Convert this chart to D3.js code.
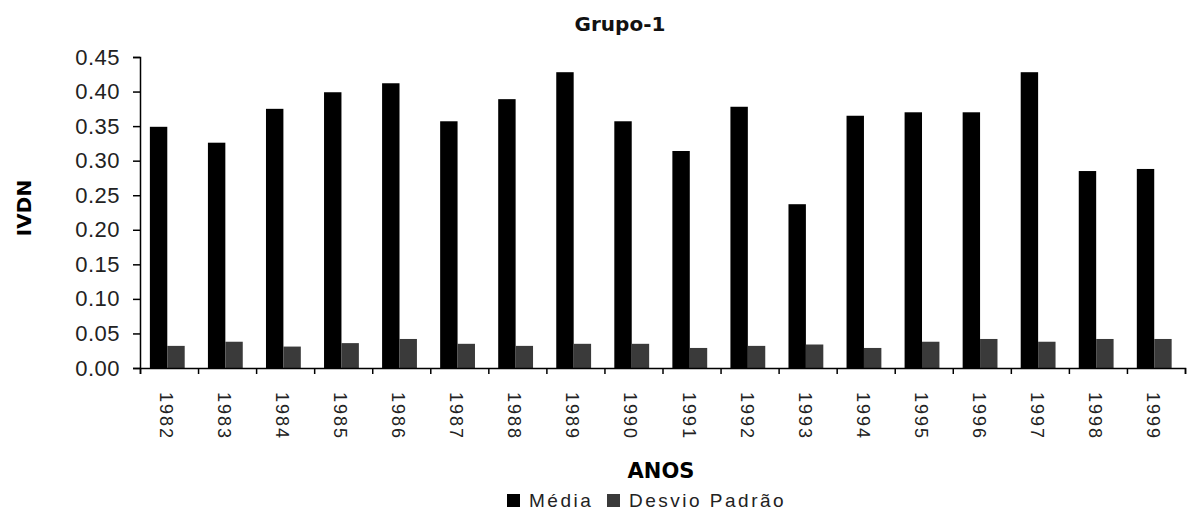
<!DOCTYPE html>
<html lang="pt">
<head>
  <meta charset="UTF-8">
  <title>Grupo-1</title>
  <script src="https://d3js.org/d3.v7.min.js"></script>
  <style>
    body {
      margin: 0;
      background: #fff;
      font-family: "Liberation Sans", Arial, sans-serif;
    }
    svg { display: block; }
  </style>
</head>
<body>
  <svg id="chart" width="1187" height="517"></svg>

  <script>
    // data
    const anos = ["1982", "1983", "1984", "1985", "1986", "1987", "1988", "1989", "1990",
                  "1991", "1992", "1993", "1994", "1995", "1996", "1997", "1998", "1999"];
    const media = [0.349, 0.326, 0.375, 0.399, 0.412, 0.357, 0.389, 0.428, 0.357,
                   0.314, 0.378, 0.237, 0.365, 0.370, 0.370, 0.428, 0.285, 0.288];
    const desvio = [0.032, 0.038, 0.031, 0.036, 0.042, 0.035, 0.032, 0.035, 0.035,
                    0.029, 0.032, 0.034, 0.029, 0.038, 0.042, 0.038, 0.042, 0.042];
    const seriesNames = ["Média", "Desvio Padrão"];
    const seriesColors = ["#000000", "#3a3a3a"];
    const yTicks = [0, 0.05, 0.10, 0.15, 0.20, 0.25, 0.30, 0.35, 0.40, 0.45];

    const svg = d3.select("#chart");
    const mLeft = 140, mRight = 1185, mTop = 57, mBottom = 368;

    const x = d3.scaleBand().domain(anos).range([mLeft, mRight]).padding(0);
    const bw = x.bandwidth();
    const xs = d3.scaleBand().domain(seriesNames).range([0.17 * bw, 0.77 * bw]);
    const y = d3.scaleLinear().domain([0, 0.45]).range([mBottom, mTop]);

    const rows = anos.map((a, i) => ({ ano: a, values: [media[i], desvio[i]] }));

    // bars
    const groups = svg.append("g").selectAll("g")
      .data(rows)
      .enter().append("g")
      .attr("transform", d => `translate(${x(d.ano)},0)`);

    groups.selectAll("rect")
      .data(d => d.values.map((v, k) => ({ key: seriesNames[k], v: v, k: k })))
      .enter().append("rect")
      .attr("x", d => xs(d.key))
      .attr("width", xs.bandwidth())
      .attr("y", d => y(d.v))
      .attr("height", d => y(0) - y(d.v))
      .attr("fill", d => seriesColors[d.k]);

    // y axis
    const yAxis = svg.append("g")
      .attr("transform", `translate(${mLeft},0)`)
      .call(d3.axisLeft(y).tickValues(yTicks).tickSize(7).tickPadding(13)
        .tickFormat(d3.format(".2f")));
    yAxis.select(".domain").attr("stroke", "#000").attr("stroke-width", 1.5);
    yAxis.selectAll(".tick line").attr("stroke", "#000").attr("stroke-width", 1.5);
    yAxis.selectAll(".tick text")
      .attr("fill", "#222")
      .style("font-size", "22px")
      .style("font-family", "'Liberation Sans', Arial, sans-serif")
      .style("letter-spacing", "0.5px");

    // x axis: ticks on category boundaries
    const xIdx = d3.scaleLinear().domain([0, anos.length]).range([mLeft, mRight]);
    const xAxis = svg.append("g")
      .attr("transform", `translate(0,${mBottom})`)
      .call(d3.axisBottom(xIdx).tickValues(d3.range(anos.length + 1))
        .tickSize(6).tickFormat(""));
    xAxis.select(".domain").attr("stroke", "#000").attr("stroke-width", 1.5);
    xAxis.selectAll(".tick line").attr("stroke", "#000").attr("stroke-width", 1.5);

    // year labels, rotated
    svg.append("g").selectAll("text")
      .data(anos)
      .enter().append("text")
      .attr("transform", d => `translate(${x(d) + bw / 2 - 9},${mBottom + 24}) rotate(90)`)
      .attr("text-anchor", "start")
      .style("font-size", "18px")
      .style("letter-spacing", "2px")
      .attr("fill", "#222")
      .text(d => d);

    // title
    svg.append("text")
      .attr("x", 620).attr("y", 31)
      .attr("text-anchor", "middle")
      .style("font-family", "'DejaVu Sans', sans-serif")
      .style("font-weight", "bold")
      .style("font-size", "20px")
      .attr("fill", "#111")
      .text("Grupo-1");

    // y label
    svg.append("text")
      .attr("transform", "translate(31,208) rotate(-90)")
      .attr("text-anchor", "middle")
      .style("font-family", "'DejaVu Sans', sans-serif")
      .style("font-weight", "bold")
      .style("font-size", "20px")
      .attr("fill", "#000")
      .text("IVDN");

    // x label
    svg.append("text")
      .attr("x", 661).attr("y", 478)
      .attr("text-anchor", "middle")
      .style("font-family", "'DejaVu Sans', sans-serif")
      .style("font-weight", "bold")
      .style("font-size", "21px")
      .attr("fill", "#000")
      .text("ANOS");

    // legend
    const legend = svg.append("g").attr("transform", "translate(507,492)");
    const legendX = [0, 100];
    const lg = legend.selectAll("g")
      .data(seriesNames)
      .enter().append("g")
      .attr("transform", (d, i) => `translate(${legendX[i]},0)`);
    lg.append("rect")
      .attr("x", 0).attr("y", 2)
      .attr("width", 13).attr("height", 13)
      .attr("fill", (d, i) => seriesColors[i]);
    lg.append("text")
      .attr("x", 22).attr("y", 15)
      .style("font-size", "19px")
      .style("letter-spacing", "2.5px")
      .attr("fill", "#222")
      .text(d => d);
  </script>
</body>
</html>
